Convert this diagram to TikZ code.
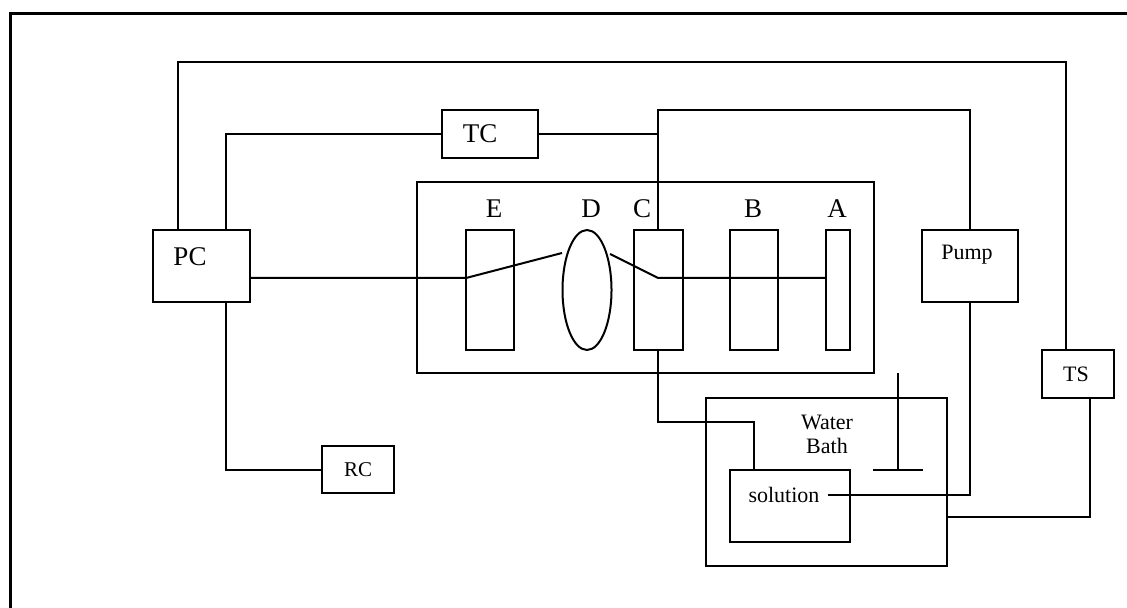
\documentclass[tikz,border=0pt]{standalone}
\usepackage{fontspec}
\setmainfont{Liberation Serif}
\usetikzlibrary{positioning,calc,shapes.geometric}

\tikzset{
  unit/.style={draw, line width=1pt, inner sep=0pt},
  bigtxt/.style={font=\fontsize{13.5}{16}\selectfont, inner sep=0pt},
  smalltxt/.style={font=\fontsize{11}{12}\selectfont, inner sep=0pt},
  wire/.style={line width=1pt}
}

\begin{document}
\begin{tikzpicture}[x=0.5pt, y=-0.5pt]
\useasboundingbox (0,0) rectangle (1127,608);
% page frame, cut at right and bottom
\draw[line width=1.5pt] (10,608) -- (10,14) -- (1127,14);

% units
\node[unit, minimum width=48.5pt, minimum height=36pt] (pc) at (201.5,266) {};
\node[bigtxt] (pctxt) at (190,257) {PC};
\node[unit, minimum width=48pt, minimum height=24pt] (tc) at (490,134) {};
\node[bigtxt] (tctxt) at (480,134) {TC};
\node[unit, minimum width=36pt, minimum height=23.5pt] (rc) at (358,469.5) {};
\node[smalltxt, font=\fontsize{10.5}{12}\selectfont] (rctxt) at (358,470) {RC};
\node[unit, minimum width=48pt, minimum height=36pt] (pump) at (970,266) {};
\node[smalltxt] (pumptxt) at (967,255) {Pump};
\node[unit, minimum width=36pt, minimum height=24pt] (ts) at (1078,374) {};
\node[smalltxt] (tstxt) at (1076,374) {TS};

% optical bench
\node[unit, minimum width=228.5pt, minimum height=95.5pt] (bench) at (645.5,277.5) {};
\node[unit, minimum width=24pt, minimum height=60pt] (e) at (490,290) {};
\node[unit, ellipse, minimum width=24.5pt, minimum height=60pt] (d) at (587,290) {};
\node[unit, minimum width=24.5pt, minimum height=60pt] (c) at (658.5,290) {};
\node[unit, minimum width=24pt, minimum height=60pt] (b) at (754,290) {};
\node[unit, minimum width=12pt, minimum height=60pt] (a) at (838,290) {};
\node[bigtxt] (etxt) at (494,209) {E};
\node[bigtxt] (dtxt) at (591,209) {D};
\node[bigtxt] (ctxt) at (642,209) {C};
\node[bigtxt] (btxt) at (753,209) {B};
\node[bigtxt] (atxt) at (837,209) {A};

% water bath
\node[unit, minimum width=120.5pt, minimum height=84pt] (bath) at (826.5,482) {};
\node[smalltxt, align=center] (bathtxt) at (827,434) {Water\\Bath};
\node[unit, minimum width=60pt, minimum height=36pt] (sol) at (790,506) {};
\node[smalltxt] (soltxt) at (784,495) {solution};
\draw[wire] (898,373) -- (898,470);
\draw[wire] (873,470) -- (923,470);

% wiring
\coordinate (tl) at (178,62);
\coordinate (tr) at (1066,62);
\draw[wire] (pc.north -| tl) -- (tl) -- (tr) -- (ts.north -| tr);
\coordinate (tcw) at (226,134);
\draw[wire] (pc.north -| tcw) |- (tc.west);
\coordinate (cp) at (658,110);
\draw[wire] (tc.east) -- (tc.east -| cp);
\draw[wire] (c.north -| cp) -- (cp) -| (pump.north);
\coordinate (ein) at (466,278);
\coordinate (dl) at (562,253);
\coordinate (dr) at (610,254);
\coordinate (cm) at (658,278);
\draw[wire] (pc.east |- ein) -- (ein) -- (dl);
\draw[wire] (dr) -- (cm) -- (a.west |- cm);
\coordinate (sw) at (754,422);
\draw[wire] (c.south -| cp) |- (sw) -- (sw |- sol.north);
\draw[wire] (pump.south) |- ([xshift=4pt]soltxt.east);
\coordinate (tsb) at (1090,517);
\draw[wire] (ts.south -| tsb) -- (tsb) -- (bath.east |- tsb);
\draw[wire] (pc.south -| tcw) |- (rc.west);
\end{tikzpicture}
\end{document}
